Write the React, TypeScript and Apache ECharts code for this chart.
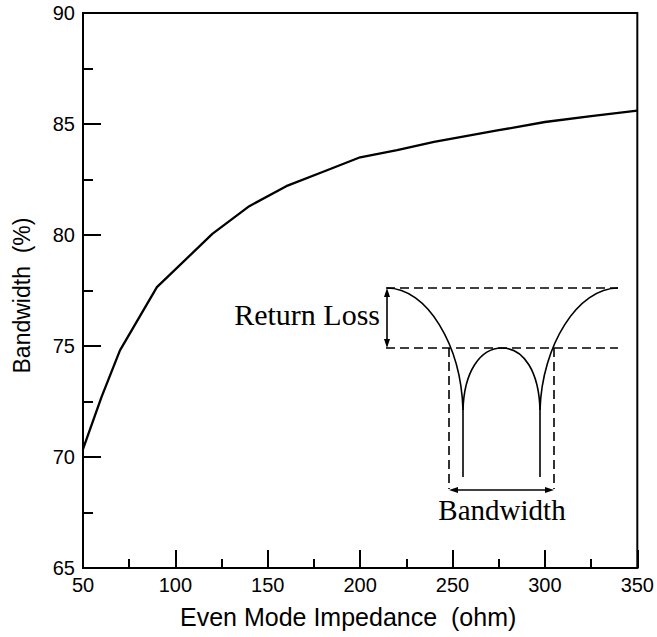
import React, { useEffect, useRef } from "react";
import * as echarts from "echarts";

const impedance = [50, 60, 70, 90, 120, 140, 160, 180, 200, 220, 240, 275, 300, 325, 350];
const bandwidth = [70.35, 72.7, 74.8, 77.65, 80.05, 81.3, 82.2, 82.85, 83.5, 83.82, 84.19, 84.72, 85.09, 85.35, 85.6];
const xTicks = [50, 100, 150, 200, 250, 300, 350];
const yTicks = [65, 70, 75, 80, 85, 90];

const xTitle = "Even Mode Impedance  (ohm)";
const yTitle = "Bandwidth  (%)";
const insetLabels = ["Return Loss", "Bandwidth"];

export default function App() {
  const ref = useRef<HTMLDivElement>(null);
  useEffect(() => {
    if (!ref.current) return;
    const chart = echarts.init(ref.current, null, { renderer: "svg" });
    const sans = "'Liberation Sans', Arial, Helvetica, sans-serif";
    const serif = "'Liberation Serif', 'Times New Roman', serif";
    const ink = "#000";
    const dash = { stroke: ink, lineWidth: 1.6, lineDash: [9, 5], fill: null };
    const solid = { stroke: ink, lineWidth: 1.6, fill: null };

    chart.setOption({
      animation: false,
      backgroundColor: "#fff",
      grid: {
        left: 83, top: 13, width: 556, height: 555,
        show: true, borderColor: ink, borderWidth: 2, backgroundColor: "transparent",
      },
      xAxis: {
        type: "value", min: xTicks[0], max: xTicks[xTicks.length - 1], interval: 50,
        name: xTitle, nameLocation: "middle", nameGap: 36,
        nameTextStyle: { fontFamily: sans, fontSize: 25, color: ink, padding: [0, 24, 0, 0] },
        axisLine: { show: true, lineStyle: { color: ink, width: 2 } },
        axisTick: { show: true, inside: true, length: 18, lineStyle: { color: ink, width: 2 } },
        minorTick: { show: true, splitNumber: 2, length: 9, lineStyle: { color: ink, width: 2 } },
        axisLabel: { fontFamily: sans, fontSize: 20, color: ink, margin: 7, showMinLabel: true, showMaxLabel: true },
        splitLine: { show: false },
      },
      yAxis: {
        type: "value", min: yTicks[0], max: yTicks[yTicks.length - 1], interval: 5,
        name: yTitle, nameLocation: "middle", nameGap: 50,
        nameTextStyle: { fontFamily: sans, fontSize: 23, color: ink, padding: [0, 10, 0, 0] },
        axisLine: { show: true, lineStyle: { color: ink, width: 2 } },
        axisTick: { show: true, inside: true, length: 18, lineStyle: { color: ink, width: 2 } },
        minorTick: { show: true, splitNumber: 2, length: 10, lineStyle: { color: ink, width: 2 } },
        axisLabel: { fontFamily: sans, fontSize: 20, color: ink, margin: 8, showMinLabel: true, showMaxLabel: true },
        splitLine: { show: false },
      },
      series: [
        {
          type: "line",
          data: impedance.map((x, i) => [x, bandwidth[i]]),
          showSymbol: false,
          symbol: "none",
          lineStyle: { color: ink, width: 2.3 },
          itemStyle: { color: ink },
        },
      ],
      graphic: [
        { type: "line", shape: { x1: 386, y1: 288, x2: 618, y2: 288 }, style: dash },
        { type: "line", shape: { x1: 386, y1: 348, x2: 618, y2: 348 }, style: dash },
        { type: "line", shape: { x1: 449, y1: 348, x2: 449, y2: 489 }, style: dash },
        { type: "line", shape: { x1: 554, y1: 348, x2: 554, y2: 489 }, style: dash },
        { type: "bezierCurve", shape: { x1: 387, y1: 288, cpx1: 427, cpy1: 288, cpx2: 461, cpy2: 345, x2: 463, y2: 410 }, style: solid },
        { type: "bezierCurve", shape: { x1: 463, y1: 410, cpx1: 464, cpy1: 372, cpx2: 480, cpy2: 348, x2: 502, y2: 348 }, style: solid },
        { type: "bezierCurve", shape: { x1: 502, y1: 348, cpx1: 524, cpy1: 348, cpx2: 539, cpy2: 372, x2: 540, y2: 410 }, style: solid },
        { type: "bezierCurve", shape: { x1: 540, y1: 410, cpx1: 542, cpy1: 345, cpx2: 578, cpy2: 288, x2: 618, y2: 288 }, style: solid },
        { type: "line", shape: { x1: 463, y1: 410, x2: 463, y2: 477 }, style: solid },
        { type: "line", shape: { x1: 540, y1: 410, x2: 540, y2: 477 }, style: solid },
        { type: "line", shape: { x1: 387, y1: 295, x2: 387, y2: 341 }, style: solid },
        { type: "polygon", shape: { points: [[387, 288], [384, 297], [390, 297]] }, style: { fill: ink } },
        { type: "polygon", shape: { points: [[387, 348], [384, 339], [390, 339]] }, style: { fill: ink } },
        { type: "line", shape: { x1: 456, y1: 490, x2: 547, y2: 490 }, style: solid },
        { type: "polygon", shape: { points: [[449, 490], [458, 487], [458, 493]] }, style: { fill: ink } },
        { type: "polygon", shape: { points: [[554, 490], [545, 487], [545, 493]] }, style: { fill: ink } },
        {
          type: "text", x: 380, y: 314,
          style: { text: insetLabels[0], fontFamily: serif, fontSize: 30, fill: ink, align: "right", verticalAlign: "middle" },
        },
        {
          type: "text", x: 502, y: 510,
          style: { text: insetLabels[1], fontFamily: serif, fontSize: 29, fill: ink, align: "center", verticalAlign: "middle" },
        },
      ],
    });
    return () => chart.dispose();
  }, []);
  return <div ref={ref} style={{ width: 657, height: 637, position: "absolute", left: 0, top: 0 }} />;
}
